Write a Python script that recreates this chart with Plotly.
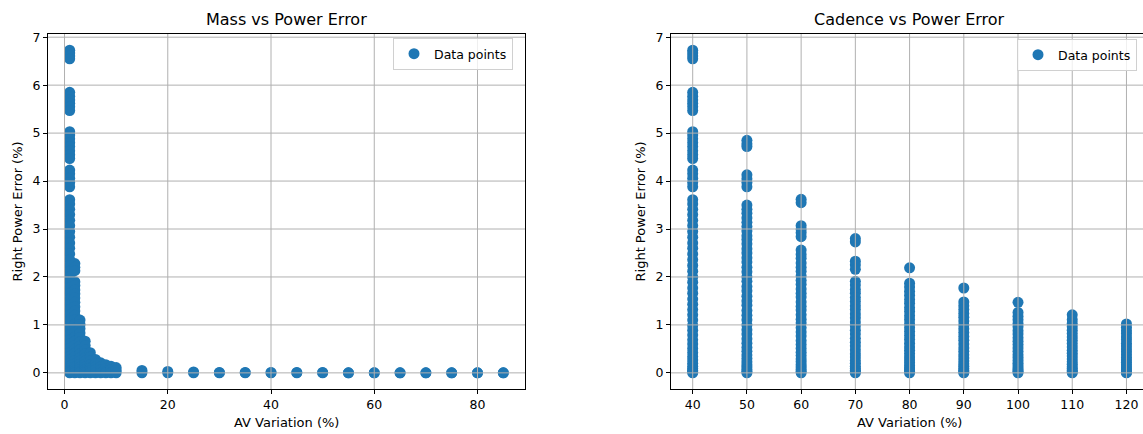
import plotly.graph_objects as go

# ---------------- data ----------------
mass_levels = [1, 2, 3, 4, 5, 6, 7, 8, 9, 10]
mass_1 = [6.73, 6.67, 6.61, 6.55, 5.85, 5.77, 5.69, 5.62, 5.55, 5.47,
          5.03, 4.96, 4.88, 4.8, 4.72, 4.63, 4.55, 4.47, 4.23, 4.15, 4.06, 3.97, 3.88,
          3.61, 3.52, 3.41, 3.3, 3.18, 3.07, 2.95, 2.83, 2.71, 2.6, 2.48, 2.36, 2.24,
          2.12, 2.0, 1.89, 1.77, 1.66, 1.54, 1.43, 1.32, 1.21, 1.1, 0.99, 0.89, 0.79,
          0.69, 0.6, 0.51, 0.42, 0.34, 0.27, 0.2, 0.14, 0.09, 0.05, 0.02, 0.0]
mass_2 = [2.28, 2.2, 2.13, 1.9, 1.82, 1.73, 1.65, 1.56, 1.47, 1.38, 1.29, 1.2, 1.11,
          1.02, 0.93, 0.84, 0.75, 0.66, 0.57, 0.49, 0.41, 0.33, 0.26, 0.19, 0.13,
          0.08, 0.04, 0.0]
mass_3 = [1.1, 1.01, 0.92, 0.83, 0.74, 0.65, 0.56, 0.48, 0.4, 0.32, 0.25, 0.18,
          0.12, 0.07, 0.03, 0.0]
mass_4 = [0.66, 0.57, 0.48, 0.4, 0.32, 0.25, 0.18, 0.12, 0.07, 0.03, 0.0]
mass_5 = [0.42, 0.33, 0.25, 0.17, 0.1, 0.05, 0.0]
mass_6 = [0.28, 0.2, 0.12, 0.06, 0.0]
mass_7 = [0.21, 0.13, 0.06, 0.0]
mass_8 = [0.17, 0.09, 0.03, 0.0]
mass_9 = [0.14, 0.07, 0.0]
mass_10 = [0.11, 0.05, 0.0]
far_mass_levels = [15, 20, 25, 30, 35, 40, 45, 50, 55, 60, 65, 70, 75, 80, 85]
far_mass_err_high = [0.05, 0.03, 0.02, 0.01, 0.01, 0.01, 0.01, 0.01,
                     0.0, 0.0, 0.0, 0.0, 0.0, 0.0, 0.0]
far_mass_err_low = [0.0, 0.0, 0.0, 0.0, 0.0, 0.0, 0.0, 0.0,
                    0.0, 0.0, 0.0, 0.0, 0.0, 0.0, 0.0]

cadence_levels = [40, 50, 60, 70, 80, 90, 100, 110, 120]
cad_40 = [6.73, 6.67, 6.61, 6.55, 5.85, 5.77, 5.69, 5.62, 5.55, 5.47,
          5.03, 4.96, 4.88, 4.8, 4.72, 4.63, 4.55, 4.47, 4.23, 4.15, 4.06, 3.97, 3.88,
          3.61, 3.52, 3.41, 3.3, 3.18, 3.07, 2.95, 2.83, 2.71, 2.6, 2.48, 2.36, 2.24,
          2.12, 2.0, 1.89, 1.77, 1.66, 1.54, 1.43, 1.32, 1.21, 1.1, 0.99, 0.89, 0.79,
          0.69, 0.6, 0.51, 0.42, 0.34, 0.27, 0.2, 0.14, 0.09, 0.05, 0.02, 0.0]
cad_50 = [4.85, 4.78, 4.72, 4.13, 4.05, 3.97, 3.88, 3.5, 3.41, 3.33, 3.23, 3.14,
          3.05, 2.96, 2.86, 2.78, 2.69, 2.59, 2.5, 2.4, 2.31, 2.2, 2.11, 2.0, 1.91,
          1.8, 1.71, 1.6, 1.5, 1.41, 1.3, 1.2, 1.11, 1.0, 0.9, 0.81, 0.71, 0.62,
          0.53, 0.45, 0.37, 0.3, 0.23, 0.17, 0.12, 0.07, 0.03, 0.0]
cad_60 = [3.62, 3.55, 3.07, 2.99, 2.92, 2.84, 2.56, 2.47, 2.39, 2.29, 2.2, 2.12,
          2.02, 1.93, 1.85, 1.75, 1.66, 1.58, 1.48, 1.39, 1.31, 1.21, 1.12, 1.04,
          0.94, 0.85, 0.77, 0.67, 0.59, 0.51, 0.43, 0.36, 0.29, 0.23, 0.17, 0.12,
          0.07, 0.03, 0.0]
cad_70 = [2.8, 2.73, 2.33, 2.25, 2.16, 1.91, 1.83, 1.74, 1.66, 1.57, 1.49, 1.4,
          1.32, 1.23, 1.15, 1.06, 0.98, 0.89, 0.81, 0.72, 0.64, 0.56, 0.48, 0.4,
          0.33, 0.26, 0.2, 0.14, 0.09, 0.05, 0.02, 0.0]
cad_80 = [2.19, 1.87, 1.79, 1.7, 1.62, 1.53, 1.45, 1.36, 1.28, 1.19, 1.11, 1.02,
          0.94, 0.86, 0.78, 0.7, 0.62, 0.54, 0.47, 0.4, 0.33, 0.27, 0.21, 0.15,
          0.1, 0.06, 0.03, 0.0]
cad_90 = [1.77, 1.48, 1.4, 1.32, 1.24, 1.16, 1.08, 1.0, 0.92, 0.84, 0.76, 0.68,
          0.6, 0.52, 0.45, 0.38, 0.31, 0.25, 0.19, 0.14, 0.09, 0.05, 0.02, 0.0]
cad_100 = [1.47, 1.26, 1.18, 1.11, 1.03, 0.96, 0.88, 0.81, 0.73, 0.66, 0.59, 0.52,
           0.45, 0.38, 0.32, 0.26, 0.2, 0.15, 0.1, 0.06, 0.03, 0.0]
cad_110 = [1.21, 1.11, 1.03, 0.96, 0.89, 0.82, 0.75, 0.68, 0.61, 0.54, 0.47, 0.41,
           0.35, 0.29, 0.23, 0.18, 0.13, 0.09, 0.05, 0.02, 0.0]
cad_120 = [1.02, 0.95, 0.88, 0.82, 0.75, 0.69, 0.62, 0.56, 0.5, 0.44, 0.38, 0.32,
           0.27, 0.22, 0.17, 0.12, 0.08, 0.04, 0.01, 0.0]

mass_ticks = [0, 20, 40, 60, 80]
cadence_ticks = [40, 50, 60, 70, 80, 90, 100, 110, 120]
error_ticks = [0, 1, 2, 3, 4, 5, 6, 7]

# ---------------- assemble points ----------------
mass_columns = [mass_1, mass_2, mass_3, mass_4, mass_5,
                mass_6, mass_7, mass_8, mass_9, mass_10]
left_x, left_y = [], []
for lvl, col in zip(mass_levels, mass_columns):
    left_x += [lvl] * len(col)
    left_y += col
for lvl, lo, hi in zip(far_mass_levels, far_mass_err_low, far_mass_err_high):
    left_x += [lvl, lvl]
    left_y += [hi, lo]

cad_columns = [cad_40, cad_50, cad_60, cad_70, cad_80, cad_90, cad_100, cad_110, cad_120]
right_x, right_y = [], []
for lvl, col in zip(cadence_levels, cad_columns):
    right_x += [lvl] * len(col)
    right_y += col

# ---------------- figure ----------------
W, H = 1143, 434
FONT = "DejaVu Sans"
BLUE = "#1f77b4"
GRID = "#b0b0b0"


def fx(p):
    return p / W


def fy(p):
    return 1 - p / H


fig = go.Figure()
fig.add_trace(go.Scatter(x=left_x, y=left_y, mode="markers", name="Data points",
                         marker=dict(color=BLUE, size=11, line=dict(width=0)),
                         xaxis="x", yaxis="y", legend="legend", showlegend=True))
fig.add_trace(go.Scatter(x=right_x, y=right_y, mode="markers", name="Data points",
                         marker=dict(color=BLUE, size=11, line=dict(width=0)),
                         xaxis="x2", yaxis="y2", legend="legend2", showlegend=True))

y_dom = [fy(389), fy(34)]
axis_common = dict(showgrid=False, zeroline=False, showline=True, linecolor="black",
                   linewidth=1, ticks="outside", ticklen=4, tickwidth=1,
                   tickcolor="black", tickfont=dict(family=FONT, size=12.5, color="black"),
                   automargin=False)

legend_common = dict(xanchor="left", yanchor="top", bgcolor="rgba(255,255,255,0.8)",
                     bordercolor="#d0d0d0", borderwidth=1,
                     font=dict(family=FONT, size=12.5, color="black"))

fig.update_layout(
    width=W, height=H,
    margin=dict(l=0, r=0, t=0, b=0),
    paper_bgcolor="white", plot_bgcolor="white",
    font=dict(family=FONT, size=12.5, color="black"),
    showlegend=True,
    xaxis=dict(domain=[fx(48), fx(525)], range=[-3.2, 89.2], tickvals=mass_ticks,
               anchor="y", mirror=True, **axis_common),
    yaxis=dict(domain=y_dom, range=[-0.3365, 7.0665], tickvals=error_ticks,
               anchor="x", mirror=True, **axis_common),
    xaxis2=dict(domain=[fx(671), 1.0], range=[36, 123.05], tickvals=cadence_ticks,
                anchor="y2", mirror=True, **axis_common),
    yaxis2=dict(domain=y_dom, range=[-0.3365, 7.0665], tickvals=error_ticks,
                anchor="x2", mirror=False, **axis_common),
    legend=dict(x=fx(393), y=fy(38), **legend_common),
    legend2=dict(x=fx(1017), y=fy(39), **legend_common),
)

# grid lines drawn above the markers (as in the reference)
shapes = []
for t in mass_ticks:
    shapes.append(dict(type="line", xref="x", yref="y domain", x0=t, x1=t, y0=0, y1=1,
                       line=dict(color=GRID, width=1), layer="above"))
for t in cadence_ticks:
    shapes.append(dict(type="line", xref="x2", yref="y2 domain", x0=t, x1=t, y0=0, y1=1,
                       line=dict(color=GRID, width=1), layer="above"))
for t in error_ticks:
    shapes.append(dict(type="line", xref="x domain", yref="y", x0=0, x1=1, y0=t, y1=t,
                       line=dict(color=GRID, width=1), layer="above"))
    shapes.append(dict(type="line", xref="x2 domain", yref="y2", x0=0, x1=1, y0=t, y1=t,
                       line=dict(color=GRID, width=1), layer="above"))
fig.update_layout(shapes=shapes)

annotations = [
    dict(text="Mass vs Power Error", x=fx(286.5), y=fy(19.5), font=dict(size=16)),
    dict(text="Cadence vs Power Error", x=fx(909.5), y=fy(19.5), font=dict(size=16)),
    dict(text="AV Variation (%)", x=fx(286.5), y=fy(422), font=dict(size=13)),
    dict(text="AV Variation (%)", x=fx(909.5), y=fy(422), font=dict(size=13)),
    dict(text="Right Power Error (%)", x=fx(17), y=fy(211.5), textangle=-90,
         font=dict(size=13)),
    dict(text="Right Power Error (%)", x=fx(640), y=fy(211.5), textangle=-90,
         font=dict(size=13)),
]
for a in annotations:
    a.update(xref="paper", yref="paper", xanchor="center", yanchor="middle",
             showarrow=False)
    a["font"].update(family=FONT, color="black")
fig.update_layout(annotations=annotations)

fig.write_html("out.html",
               config={"displayModeBar": False, "staticPlot": False},
               post_script="document.body.style.margin='0px';document.body.style.overflow='hidden';")
